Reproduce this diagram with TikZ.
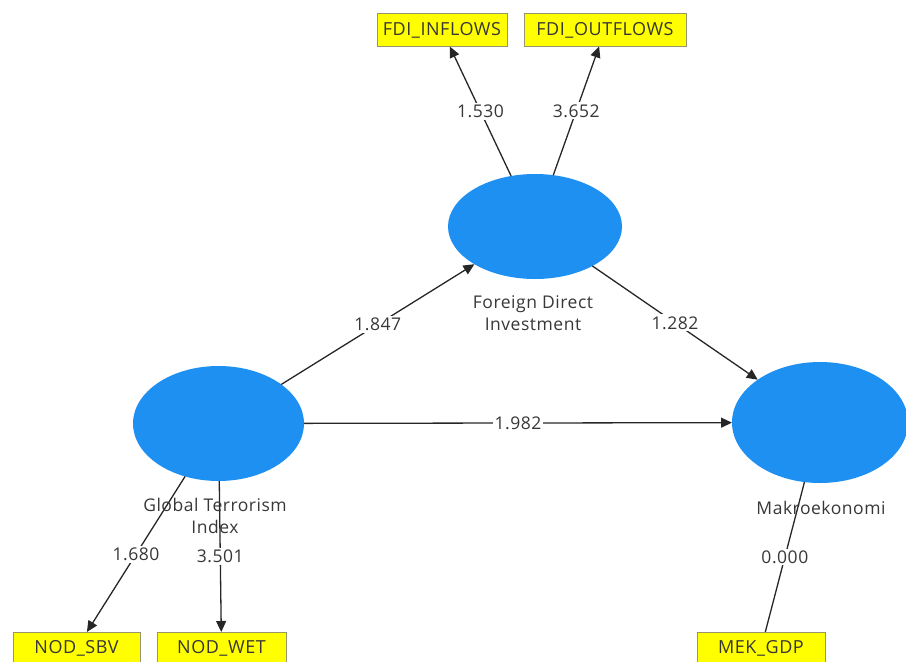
\documentclass[tikz,border=0pt]{standalone}
\usepackage{fontspec}
\setmainfont[LetterSpace=3]{Open Sans}
\usetikzlibrary{arrows.meta,shapes.geometric}
\definecolor{lvblue}{RGB}{30,144,242}
\definecolor{indyellow}{RGB}{255,255,0}
\definecolor{indborder}{RGB}{150,150,110}
\definecolor{labelgray}{RGB}{55,55,55}
\begin{document}
\begin{tikzpicture}[x=1pt,y=-1pt,
  latent/.style={ellipse,fill=lvblue,draw=none,inner sep=0pt,outer sep=0pt},
  indicator/.style={rectangle,fill=indyellow,draw=indborder,line width=0.8pt,
    minimum width=128pt,minimum height=33pt,inner sep=0pt,outer sep=0pt,
    text=labelgray,font=\fontsize{18}{20}\selectfont},
  lvname/.style={text=labelgray,align=center,font=\fontsize{17.5}{22}\selectfont},
  coef/.style={fill=white,text=labelgray,inner sep=2pt,font=\fontsize{17.5}{20}\selectfont},
  path/.style={draw=black!85,line width=1.3pt,-{Triangle[length=11pt,width=10pt]}},
  plainpath/.style={draw=black!85,line width=1.3pt}
]
\useasboundingbox (0,0) rectangle (906,662);
\clip (0,0) rectangle (906,662);

% latent variables
\node[latent,minimum width=174pt,minimum height=105pt] (fdi) at (535,226.5) {};
\node[latent,minimum width=171pt,minimum height=115pt] (gti) at (218.5,423.5) {};
\node[latent,minimum width=176pt,minimum height=121pt] (mak) at (820,422.5) {};

% indicators
\node[indicator,minimum width=130pt] (fin) at (442,30) {FDI\_INFLOWS};
\node[indicator,minimum width=162pt] (fout) at (605,30) {FDI\_OUTFLOWS};
\node[indicator,minimum width=127pt] (sbv) at (76.5,648.5) {NOD\_SBV};
\node[indicator,minimum width=129pt] (wet) at (221.5,648.5) {NOD\_WET};
\node[indicator,minimum width=128pt] (gdp) at (761,648.5) {MEK\_GDP};

% outer model
\draw[path] (fdi) -- node[coef] (c1) {1.530} (fin);
\draw[path] (fdi) -- node[coef] (c2) {3.652} (fout);
\draw[path] (gti) -- node[coef] (c3) {1.680} (sbv);
\draw[path] (gti) -- node[coef] (c4) {3.501} (wet);
\draw[plainpath] (gdp) -- node[coef] (c5) {0.000} (mak);

% inner model
\draw[path] (gti) -- node[coef] (c6) {1.847} (fdi);
\draw[path] (fdi) -- node[coef] (c7) {1.282} (mak);
\draw[path] (gti) -- node[coef] (c8) {1.982} (mak);

% construct names
\node[lvname] (nfdi) at (533,313) {Foreign Direct\\Investment};
\node[lvname] (ngti) at (215,516) {Global Terrorism\\Index};
\node[lvname] (nmak) at (821,508) {Makroekonomi};
\end{tikzpicture}
\end{document}
